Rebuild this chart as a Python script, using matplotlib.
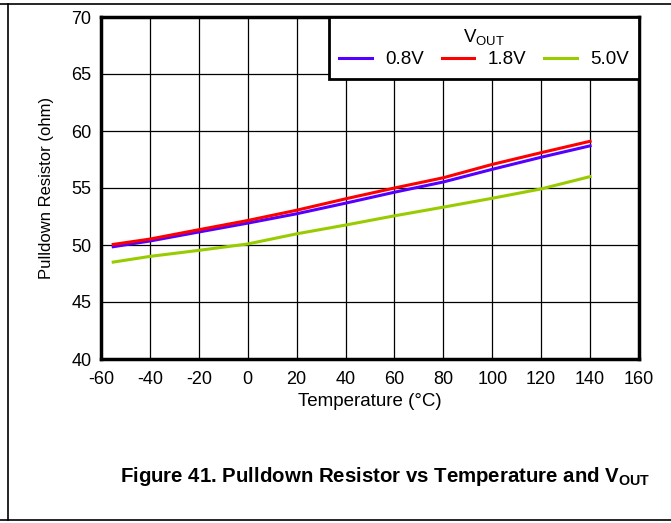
import matplotlib
matplotlib.use("Agg")
import matplotlib.pyplot as plt
from matplotlib.lines import Line2D

plt.rcParams['font.family'] = ['Liberation Sans', 'DejaVu Sans']
plt.rcParams['mathtext.fontset'] = 'custom'
plt.rcParams['mathtext.rm'] = 'Liberation Sans'
plt.rcParams['mathtext.bf'] = 'Liberation Sans:bold'
plt.rcParams['axes.unicode_minus'] = False

### Data
temp_c = [-55, -40, -20, 0, 20, 40, 60, 80, 100, 120, 140]
r_08v = [49.85, 50.35, 51.14, 51.92, 52.74, 53.67, 54.63, 55.53, 56.64, 57.70, 58.70]
r_18v = [50.05, 50.52, 51.34, 52.15, 53.05, 54.05, 55.00, 55.90, 57.07, 58.10, 59.10]
r_50v = [48.50, 49.00, 49.53, 50.09, 50.98, 51.75, 52.56, 53.32, 54.10, 54.92, 56.00]
series_labels = ['0.8V', '1.8V', '5.0V']
series_colors = ['#5500FF', '#FF0000', '#99CC00']
x_ticks = list(range(-60, 161, 20))
y_ticks = list(range(40, 71, 5))

fig = plt.figure(figsize=(6.71, 5.23), dpi=100)
ax = fig.add_axes([101 / 671, 1 - 359 / 523, 538 / 671, 342 / 523])

for vals, lab, col in zip([r_08v, r_18v, r_50v], series_labels, series_colors):
    ax.plot(temp_c, vals, color=col, linewidth=2.2, label=lab, zorder=3)

ax.set_xlim(-60, 160)
ax.set_ylim(40, 70)
ax.set_xticks(x_ticks)
ax.set_yticks(y_ticks)
ax.tick_params(length=0, labelsize=13)
ax.tick_params(axis='x', pad=9)
ax.tick_params(axis='y', pad=7)
ax.grid(True, color='black', linewidth=0.9)
for sp in ax.spines.values():
    sp.set_linewidth(2.5)
ax.set_xlabel('Temperature (°C)', fontsize=13.5, labelpad=3)
ax.set_ylabel('Pulldown Resistor (ohm)', fontsize=12, labelpad=12)

handles = [Line2D([], [], color=c, linewidth=2.2) for c in series_colors]
leg = ax.legend(handles, series_labels, ncol=3, loc='upper right',
                title='V$_\\mathregular{OUT}$', title_fontsize=13.5, fontsize=13.5,
                frameon=True, fancybox=False, borderaxespad=0, handlelength=1.75,
                columnspacing=0.95, handletextpad=0.7, borderpad=0.55,
                labelspacing=0.2)
leg.get_frame().set_edgecolor('black')
leg.get_frame().set_linewidth(2)
leg.get_frame().set_alpha(1)
leg.set_zorder(5)

# page frame lines
fig.add_artist(Line2D([0, 1], [1 - 4 / 523, 1 - 4 / 523], color='black', linewidth=1.2))
fig.add_artist(Line2D([8 / 671, 8 / 671], [1 - 4 / 523, 3 / 523], color='black', linewidth=1.2))
fig.add_artist(Line2D([0, 1], [3 / 523, 3 / 523], color='black', linewidth=1.2))

fig.text(650 / 671, 1 - 477 / 523,
         'Figure 41. Pulldown Resistor vs Temperature and V$_\\mathbf{OUT}$',
         ha='right', va='center', fontsize=14.7, fontweight='bold')

fig.savefig('out.png', dpi=100)
